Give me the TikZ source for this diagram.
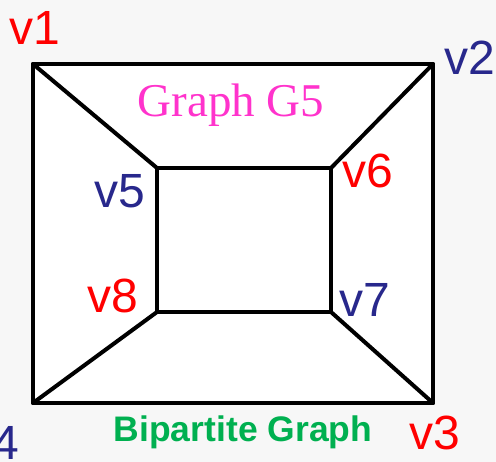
\documentclass[tikz,border=0pt]{standalone}
\usepackage{fontspec}
\setmainfont{Liberation Sans}
\newfontfamily\seriffont{Liberation Serif}
\definecolor{lblred}{RGB}{255,0,0}
\definecolor{lblblue}{RGB}{40,40,140}
\definecolor{titlemag}{RGB}{255,51,204}
\definecolor{bipgreen}{RGB}{0,176,80}
\begin{document}
\begin{tikzpicture}[x=1pt,y=-1pt,
  edge/.style={draw=black,line width=4pt,line join=round,line cap=round},
  vlab/.style={anchor=base west,inner sep=0pt,font=\fontsize{48}{48}\selectfont},
  redlab/.style={vlab,text=lblred},
  bluelab/.style={vlab,text=lblblue}]
\useasboundingbox (0,0) rectangle (496,462);
\clip (0,0) rectangle (496,462);
\fill[white!97!black] (0,0) rectangle (496,462);
\coordinate (v1) at (33,64);
\coordinate (v2) at (433,64);
\coordinate (v3) at (433,403);
\coordinate (v4) at (33,403);
\coordinate (v5) at (157,168);
\coordinate (v6) at (331,168);
\coordinate (v7) at (331,312);
\coordinate (v8) at (157,312);
\fill[white] (v1) -- (v2) -- (v3) -- (v4) -- cycle;
\draw[edge] (v1) -- (v2) -- (v3) -- (v4) -- cycle;
\draw[edge] (v5) -- (v6) -- (v7) -- (v8) -- cycle;
\draw[edge] (v1) -- (v5);
\draw[edge] (v2) -- (v6);
\draw[edge] (v3) -- (v7);
\draw[edge] (v4) -- (v8);
\node[redlab] (l1) at (9,45) {v1};
\node[bluelab] (l2) at (444,75) {v2};
\node[redlab] (l3) at (409,450) {v3};
\node[bluelab] (l4) at (-32,460) {v4};
\node[bluelab] (l5) at (94,208) {v5};
\node[redlab] (l6) at (342,188) {v6};
\node[bluelab] (l7) at (339,317) {v7};
\node[redlab] (l8) at (87,313) {v8};
\node[anchor=base,inner sep=0pt,text=titlemag,font=\seriffont\fontsize{47}{47}\selectfont] (title) at (231,117) {Graph G5};
\node[anchor=base,inner sep=0pt,text=bipgreen,font=\bfseries\fontsize{35.5}{35.5}\selectfont] (bip) at (243,442) {Bipartite Graph};
\end{tikzpicture}
\end{document}
